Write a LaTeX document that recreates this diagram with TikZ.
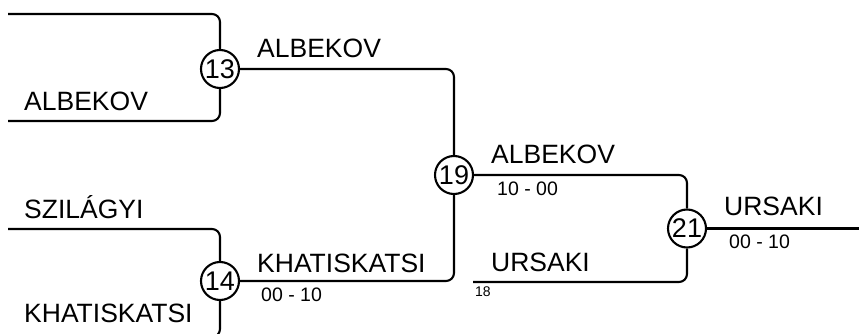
\documentclass[tikz,border=0pt]{standalone}
\usepackage{fontspec}
\setmainfont{Liberation Sans}
\begin{document}
\begin{tikzpicture}[x=1pt,y=-1pt,
  conn/.style={line width=2.1pt, rounded corners=8pt},
  matchnode/.style={circle, draw, line width=2.1pt, fill=white, minimum size=38pt, inner sep=0pt, font=\fontsize{27}{30}\selectfont},
  plabel/.style={anchor=base west, inner sep=0pt, font=\fontsize{26.5}{30}\selectfont},
  pscore/.style={anchor=base west, inner sep=0pt, font=\fontsize{19.5}{24}\selectfont},
  psmall/.style={anchor=base west, inner sep=0pt, font=\fontsize{14}{17}\selectfont}]
\clip (0,0) rectangle (859,334);
% free ends
\coordinate (t13) at (8,14);
\coordinate (b13) at (8,121);
\coordinate (t14) at (8,229);
\coordinate (b14) at (8,337);
\coordinate (s18) at (473,282);
\coordinate (e21) at (859,228.5);
% match circles
\node[matchnode] (c13) at (220,69) {13};
\node[matchnode] (c14) at (220,281) {14};
\node[matchnode] (c19) at (454,175) {19};
\node[matchnode] (c21) at (687,228.5) {21};
% connectors
\draw[conn] (t13) -| (c13);
\draw[conn] (b13) -| (c13);
\draw[conn] (t14) -| (c14);
\draw[conn] (b14) -| (c14);
\draw[conn] (c13) -| (c19);
\draw[conn] (c14) -| (c19);
\draw[conn] (c19) -| (c21);
\draw[conn] (s18) -| (c21);
\draw[conn] (c21) -- (e21);
% labels
\node[plabel] (l1) at (24,111) {ALBEKOV};
\node[plabel] (l2) at (257,58) {ALBEKOV};
\node[plabel] (l3) at (24,218) {SZILÁGYI};
\node[plabel] (l4) at (24,322) {KHATISKATSI};
\node[plabel] (l5) at (257,272) {KHATISKATSI};
\node[pscore] (s5) at (261,301) {00 - 10};
\node[plabel] (l6) at (491,164) {ALBEKOV};
\node[pscore] (s6) at (497,195) {10 - 00};
\node[plabel] (l7) at (491,271) {URSAKI};
\node[psmall] (n18) at (475,296) {18};
\node[plabel] (l8) at (724,215) {URSAKI};
\node[pscore] (s8) at (729,248) {00 - 10};
\end{tikzpicture}
\end{document}
